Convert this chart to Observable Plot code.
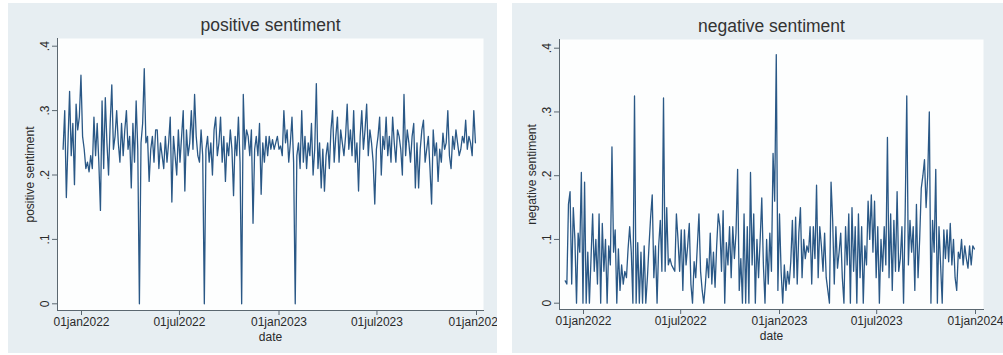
<!DOCTYPE html>
<html>
<head>
<meta charset="utf-8">
<script src="https://cdn.jsdelivr.net/npm/d3@7"></script>
<script src="https://cdn.jsdelivr.net/npm/@observablehq/plot@0.6"></script>
<style>
  html, body { margin: 0; padding: 0; background: #ffffff; }
  body { width: 1003px; height: 355px; position: relative; overflow: hidden; font-family: "Liberation Sans", Arial, sans-serif; }
  .panel { position: absolute; top: 3px; height: 350px; background: #e7eef2; overflow: hidden; }
  .panel svg { display: block; }
</style>
</head>
<body>
<div id="left" class="panel" style="left:8px;width:489px;"></div>
<div id="right" class="panel" style="left:512px;width:491px;"></div>
<script>
// ---- data ----
const startDate = "2021-11-28";   // first observation
const stepDays = 3;               // spacing between observations
const titles = ["positive sentiment", "negative sentiment"];
const yLabels = ["positive sentiment", "negative sentiment"];
const xLabel = "date";
const yTicks = [0, 0.1, 0.2, 0.3, 0.4];
const yTickLabels = ["0", ".1", ".2", ".3", ".4"];
const xTickDates = ["2022-01-01", "2022-07-01", "2023-01-01", "2023-07-01", "2024-01-01"];
const xTickLabels = ["01jan2022", "01jul2022", "01jan2023", "01jul2023", "01jan2024"];

const positive = [
  0.24, 0.30, 0.165, 0.25, 0.33, 0.23, 0.28, 0.185, 0.31, 0.27,
  0.29, 0.355, 0.26, 0.24, 0.21, 0.22, 0.205, 0.23, 0.21, 0.29,
  0.23, 0.28, 0.22, 0.145, 0.315, 0.21, 0.32, 0.25, 0.20, 0.28,
  0.34, 0.24, 0.26, 0.30, 0.25, 0.22, 0.28, 0.23, 0.27, 0.30,
  0.24, 0.26, 0.18, 0.28, 0.22, 0.315, 0.24, 0.0, 0.25, 0.28,
  0.365, 0.25, 0.26, 0.19, 0.24, 0.26, 0.22, 0.27, 0.27, 0.21,
  0.25, 0.23, 0.21, 0.26, 0.22, 0.25, 0.29, 0.158, 0.26, 0.23,
  0.20, 0.27, 0.22, 0.26, 0.30, 0.175, 0.27, 0.23, 0.25, 0.30,
  0.24, 0.325, 0.26, 0.23, 0.22, 0.27, 0.23, 0.0, 0.24, 0.26,
  0.22, 0.25, 0.20, 0.27, 0.29, 0.23, 0.25, 0.29, 0.22, 0.26,
  0.19, 0.25, 0.23, 0.27, 0.24, 0.168, 0.26, 0.23, 0.29, 0.22,
  0.0, 0.325, 0.24, 0.27, 0.26, 0.23, 0.27, 0.125, 0.24, 0.26,
  0.23, 0.28, 0.17, 0.25, 0.22, 0.26, 0.23, 0.26, 0.24, 0.255,
  0.24, 0.25, 0.26, 0.24, 0.245, 0.23, 0.30, 0.25, 0.27, 0.22,
  0.25, 0.29, 0.22, 0.0, 0.23, 0.25, 0.21, 0.30, 0.22, 0.26,
  0.21, 0.25, 0.23, 0.28, 0.20, 0.24, 0.342, 0.21, 0.25, 0.18,
  0.24, 0.175, 0.23, 0.25, 0.21, 0.27, 0.30, 0.22, 0.26, 0.29,
  0.22, 0.27, 0.25, 0.23, 0.26, 0.31, 0.24, 0.27, 0.23, 0.30,
  0.22, 0.25, 0.175, 0.26, 0.30, 0.24, 0.27, 0.31, 0.23, 0.27,
  0.25, 0.22, 0.155, 0.24, 0.26, 0.29, 0.20, 0.26, 0.24, 0.29,
  0.23, 0.26, 0.22, 0.29, 0.25, 0.22, 0.27, 0.26, 0.24, 0.20,
  0.325, 0.23, 0.27, 0.25, 0.22, 0.26, 0.28, 0.18, 0.25, 0.18,
  0.24, 0.27, 0.285, 0.22, 0.24, 0.26, 0.21, 0.155, 0.27, 0.23,
  0.25, 0.19, 0.24, 0.22, 0.265, 0.24, 0.25, 0.30, 0.23, 0.21,
  0.26, 0.24, 0.27, 0.25, 0.23, 0.24, 0.26, 0.25, 0.285, 0.24,
  0.26, 0.25, 0.23, 0.30, 0.25
];

const negative = [
  0.035, 0.03, 0.155, 0.175, 0.03, 0.15, 0.10, 0.0, 0.11, 0.08,
  0.205, 0.0, 0.19, 0.0, 0.08, 0.0, 0.07, 0.14, 0.05, 0.10,
  0.03, 0.14, 0.0, 0.125, 0.05, 0.10, 0.0, 0.09, 0.06, 0.245,
  0.08, 0.115, 0.0, 0.085, 0.02, 0.06, 0.03, 0.05, 0.04, 0.085,
  0.12, 0.08, 0.0, 0.325, 0.0, 0.095, 0.0, 0.08, 0.0, 0.09,
  0.0, 0.04, 0.09, 0.135, 0.17, 0.04, 0.09, 0.0, 0.09, 0.13,
  0.05, 0.322, 0.05, 0.15, 0.06, 0.07, 0.06, 0.055, 0.05, 0.14,
  0.10, 0.05, 0.115, 0.02, 0.115, 0.06, 0.09, 0.125, 0.03, 0.0,
  0.065, 0.04, 0.09, 0.14, 0.05, 0.02, 0.0, 0.03, 0.07, 0.04,
  0.11, 0.03, 0.08, 0.025, 0.09, 0.14, 0.12, 0.05, 0.145, 0.0,
  0.095, 0.06, 0.12, 0.04, 0.12, 0.07, 0.11, 0.21, 0.02, 0.07,
  0.0, 0.14, 0.0, 0.12, 0.0, 0.205, 0.06, 0.14, 0.0, 0.10,
  0.04, 0.10, 0.165, 0.06, 0.0, 0.10, 0.03, 0.11, 0.05, 0.235,
  0.16, 0.39, 0.02, 0.14, 0.05, 0.0, 0.06, 0.02, 0.05, 0.03,
  0.065, 0.13, 0.04, 0.135, 0.03, 0.11, 0.15, 0.04, 0.10, 0.07,
  0.09, 0.08, 0.12, 0.03, 0.12, 0.07, 0.185, 0.04, 0.12, 0.09,
  0.05, 0.11, 0.04, 0.02, 0.0, 0.19, 0.13, 0.03, 0.12, 0.055,
  0.08, 0.11, 0.04, 0.0, 0.12, 0.06, 0.14, 0.0, 0.15, 0.05,
  0.12, 0.0, 0.14, 0.04, 0.12, 0.0, 0.09, 0.06, 0.16, 0.10,
  0.17, 0.08, 0.16, 0.04, 0.12, 0.0, 0.10, 0.05, 0.12, 0.06,
  0.26, 0.04, 0.14, 0.02, 0.13, 0.05, 0.175, 0.05, 0.07, 0.12,
  0.0, 0.14, 0.325, 0.06, 0.13, 0.08, 0.12, 0.02, 0.155, 0.04,
  0.10, 0.18, 0.20, 0.225, 0.15, 0.20, 0.30, 0.0, 0.13, 0.08,
  0.21, 0.0, 0.12, 0.06, 0.0, 0.115, 0.07, 0.115, 0.065, 0.125,
  0.06, 0.10, 0.04, 0.02, 0.08, 0.07, 0.10, 0.06, 0.09, 0.07,
  0.055, 0.09, 0.06, 0.09, 0.085
];

// ---- build ----
const parse = d3.utcParse("%Y-%m-%d");
const start = parse(startDate);
function toRows(values) {
  return values.map((v, i) => ({date: d3.utcDay.offset(start, i * stepDays), value: v}));
}
const tickDates = xTickDates.map(parse);
const tickLabelOf = d => xTickLabels[tickDates.findIndex(t => +t === +d)];
const yLabelOf = d => yTickLabels[yTicks.indexOf(d)];

const FONT = "Liberation Sans, Arial, Helvetica, sans-serif";
const INK = "#2a2a2a";
const AXIS = "#5b6770";
const LINE = "#2a5886";

function panel(opts) {
  return Plot.plot({
    width: opts.width,
    height: 350,
    marginLeft: opts.ml,
    marginRight: opts.mr,
    marginTop: opts.mt,
    marginBottom: opts.mb,
    style: {background: "transparent", fontFamily: FONT, fontSize: "12px", color: INK, overflow: "hidden"},
    x: {type: "utc", domain: [tickDates[0], tickDates[tickDates.length - 1]], range: opts.xr},
    y: {domain: [0, 0.4], range: opts.yr},
    marks: [
      Plot.frame({fill: "#fdfefe", stroke: null}),
      Plot.line(opts.rows, {x: "date", y: "value", stroke: LINE, strokeWidth: 1.3}),
      Plot.frame({anchor: "left", stroke: AXIS, strokeWidth: 1}),
      Plot.frame({anchor: "bottom", stroke: AXIS, strokeWidth: 1}),
      Plot.axisY(yTicks, {
        anchor: "left", tickSize: 5, tickPadding: 4, tickRotate: -90,
        tickFormat: yLabelOf, stroke: AXIS, fill: INK, fontSize: 12,
        label: opts.ylabel, labelAnchor: "center", labelArrow: "none", labelOffset: 32
      }),
      Plot.axisX(tickDates, {
        anchor: "bottom", tickSize: 5, tickPadding: 2,
        tickFormat: tickLabelOf, stroke: AXIS, fill: INK, fontSize: 12,
        label: xLabel, labelAnchor: "center", labelArrow: "none", labelOffset: 30
      }),
      Plot.text([opts.title], {frameAnchor: "top", lineAnchor: "middle", dy: -13, fontSize: 17.5, fill: "#333333", text: d => d})
    ]
  });
}

document.getElementById("left").appendChild(panel({
  width: 489, ml: 49, mr: 14, mt: 35, mb: 43,
  xr: [73, 468], yr: [300.3, 42.7],
  rows: toRows(positive), title: titles[0], ylabel: yLabels[0]
}));
document.getElementById("right").appendChild(panel({
  width: 491, ml: 47, mr: 20, mt: 36, mb: 44,
  xr: [71, 463], yr: [299.7, 44.7],
  rows: toRows(negative), title: titles[1], ylabel: yLabels[1]
}));
</script>
</body>
</html>
